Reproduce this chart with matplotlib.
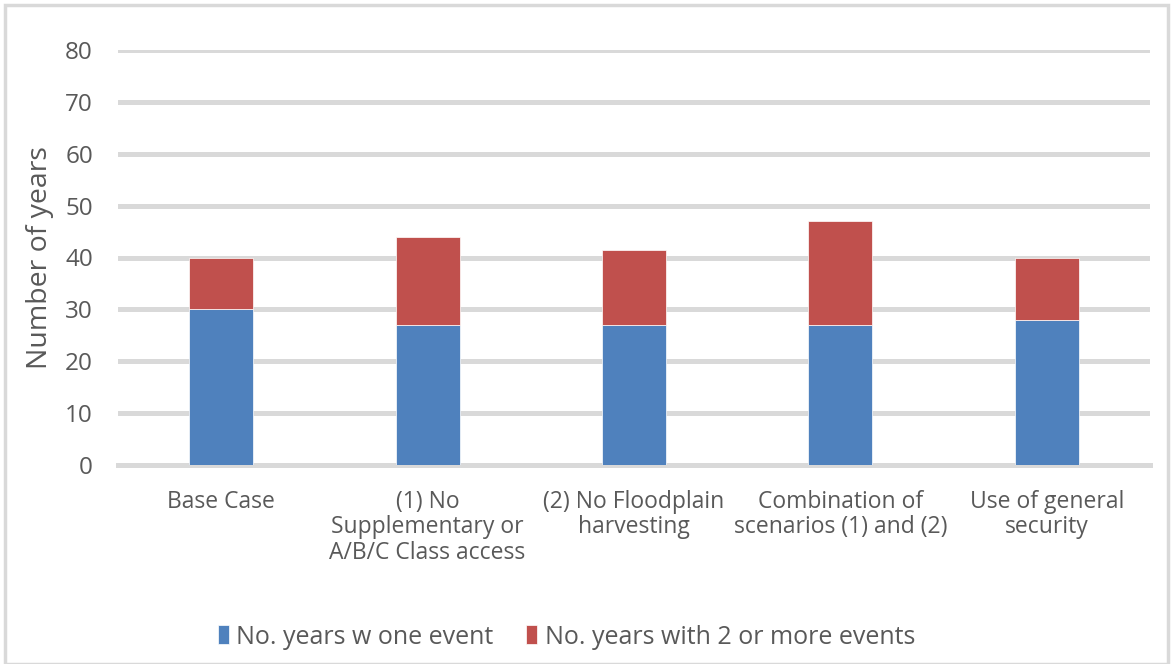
import matplotlib.pyplot as plt
from matplotlib.patches import Rectangle
import numpy as np

plt.rcParams["font.family"] = ["Open Sans", "DejaVu Sans"]

categories = [
    "Base Case",
    "(1) No\nSupplementary or\nA/B/C Class access",
    "(2) No Floodplain\nharvesting",
    "Combination of\nscenarios (1) and (2)",
    "Use of general\nsecurity",
]
one_event = [30, 27, 27, 27, 28]
two_plus = [10, 17, 14.5, 20, 12]
series_names = ["No. years w one event", "No. years with 2 or more events"]

BLUE = "#4F81BD"
RED = "#C0504D"
GRID = "#D9D9D9"
TEXT = "#595959"

fig = plt.figure(figsize=(11.73, 6.64), dpi=100)
ax = fig.add_axes([118 / 1173, 1 - 465 / 664, (1150 - 118) / 1173, (465 - 50) / 664])

x = np.arange(len(categories))
ax.bar(x, one_event, width=0.31, color=BLUE, edgecolor="white", linewidth=0.5, zorder=3,
       label=series_names[0])
ax.bar(x, two_plus, bottom=one_event, width=0.31, color=RED, edgecolor="white", linewidth=0.5,
       zorder=3, label=series_names[1])

ax.set_xlim(-0.5, len(categories) - 0.5)
ax.set_ylim(0, 80)
ax.set_yticks(np.arange(0, 81, 10))
ax.yaxis.grid(True, color=GRID, linewidth=3.6, zorder=0)
ax.set_axisbelow(True)
for name in ["top", "right", "left"]:
    ax.spines[name].set_visible(False)
ax.spines["bottom"].set_color(GRID)
ax.spines["bottom"].set_linewidth(3.6)
ax.tick_params(axis="y", length=0, pad=18, labelsize=17.5, labelcolor=TEXT)
ax.tick_params(axis="x", length=0, pad=18)
ax.set_xticks(x)
ax.set_xticklabels(categories, fontsize=16.5, color=TEXT, linespacing=1.08)
ax.set_ylabel("Number of years", fontsize=20.5, color=TEXT, labelpad=8)

leg = fig.legend(loc="center", bbox_to_anchor=(0.483, 1 - 637 / 664), ncol=2, frameon=False,
                 fontsize=18, handlelength=0.45, handleheight=0.8, handletextpad=0.3,
                 columnspacing=1.3)
for t in leg.get_texts():
    t.set_color(TEXT)

# chart frame
fig.patches.append(Rectangle((5 / 1173, 0), 1163 / 1173, 1 - 5 / 664, transform=fig.transFigure,
                             fill=False, edgecolor=GRID, linewidth=2.5))

fig.savefig("out.png", dpi=100)
